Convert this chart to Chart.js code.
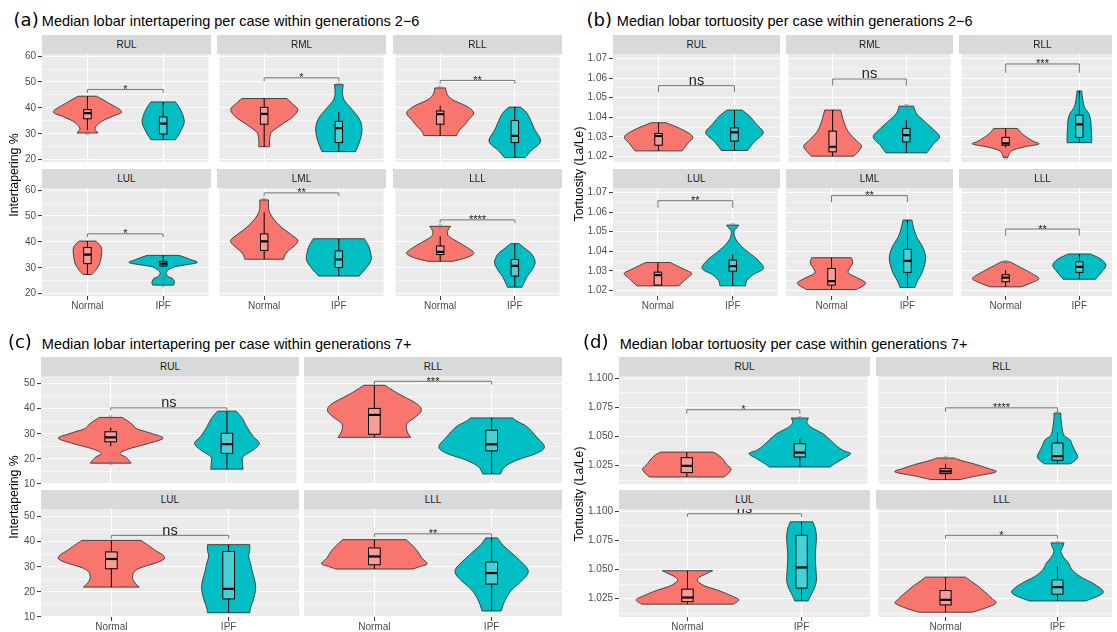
<!DOCTYPE html>
<html><head><meta charset="utf-8">
<script src="https://cdn.jsdelivr.net/npm/chart.js@4.4.1/dist/chart.umd.min.js"></script>
<style>
html,body{margin:0;padding:0;background:#fff;}
#fig{position:relative;width:1112px;height:632px;overflow:hidden;font-family:'Liberation Sans',Arial,sans-serif;background:#fff;}
canvas{position:absolute;}
.strip{position:absolute;background:#D9D9D9;color:#1A1A1A;font-size:10px;display:flex;align-items:center;justify-content:center;z-index:2;}
.ttl{position:absolute;white-space:nowrap;font-size:14.5px;line-height:14.5px;color:#000;z-index:3;}
.tag{position:absolute;white-space:nowrap;font-family:'DejaVu Sans',sans-serif;font-size:18px;line-height:18px;color:#000;z-index:3;}
.ytitle{position:absolute;white-space:nowrap;font-size:12.3px;line-height:14px;height:14px;width:160px;text-align:center;color:#000;transform:rotate(-90deg);z-index:3;}
</style></head><body><div id="fig"></div>
<script>
// ---------------- DATA ----------------
const groups = ['Normal', 'IPF'];
const lobes6 = ['RUL', 'RML', 'RLL', 'LUL', 'LML', 'LLL'];
const lobes4 = ['RUL', 'RLL', 'LUL', 'LLL'];

const titleA = 'Median lobar intertapering per case within generations 2\u22126';
const titleB = 'Median lobar tortuosity per case within generations 2\u22126';
const titleC = 'Median lobar intertapering per case within generations 7+';
const titleD = 'Median lobar tortuosity per case within generations 7+';
const yTitleInter = 'Intertapering %';
const yTitleTort = 'Tortuosity (La/Le)';

const ticksA = [20, 30, 40, 50, 60];
const ticksB = [1.02, 1.03, 1.04, 1.05, 1.06, 1.07];
const ticksC = [10, 20, 30, 40, 50];
const ticksD = [1.025, 1.05, 1.075, 1.1];

// violin profiles: [value, relative density] from top to bottom
const aViolinN = [
  [[44.5,0.27],[41.9,0.62],[38.6,1.0],[36.7,0.73],[34.8,0.42],[32.2,0.22],[30.3,0.31]],
  [[43.6,0.67],[41.5,0.85],[39.3,1.0],[36.5,0.85],[34.1,0.58],[31.5,0.3],[30.3,0.2],[27.5,0.16],[25.0,0.16]],
  [[47.7,0.16],[45.5,0.2],[43.2,0.36],[40.5,0.8],[38.0,1.0],[35.5,0.85],[33.5,0.73],[31.0,0.55],[29.3,0.49]],
  [[40.3,0.24],[38.5,0.38],[36.7,0.42],[34.0,0.4],[31.6,0.36],[29.0,0.24],[27.4,0.13]],
  [[56.2,0.13],[53.5,0.13],[51.4,0.16],[48.5,0.3],[45.7,0.51],[43.0,0.78],[40.6,1.0],[38.5,0.9],[36.7,0.73],[35.0,0.62],[33.3,0.58]],
  [[46.0,0.31],[44.0,0.22],[42.0,0.27],[39.3,0.62],[37.0,0.9],[35.5,1.0],[34.0,0.8],[32.5,0.38]]
];
const aViolinI = [
  [[42.3,0.36],[39.3,0.51],[34.8,0.62],[30.9,0.51],[27.7,0.36]],
  [[49.0,0.13],[46.0,0.11],[43.0,0.16],[39.3,0.4],[35.5,0.62],[31.5,0.69],[27.0,0.62],[23.1,0.5]],
  [[40.3,0.17],[38.0,0.36],[34.1,0.51],[31.5,0.6],[27.6,0.77],[25.5,0.68],[23.8,0.51],[20.8,0.31]],
  [[34.8,0.47],[33.2,0.8],[32.0,1.0],[31.0,0.6],[30.3,0.31],[29.0,0.14],[27.8,0.09],[26.5,0.16],[25.9,0.27],[24.5,0.33],[23.3,0.31]],
  [[41.2,0.76],[38.3,0.89],[35.5,0.95],[32.9,0.96],[30.0,0.82],[26.8,0.6]],
  [[39.3,0.13],[37.5,0.3],[35.5,0.49],[33.5,0.58],[31.6,0.6],[29.0,0.5],[26.5,0.36],[24.0,0.27],[22.5,0.22]]
];
// box stats: [lower whisker, q1, median, q3, upper whisker]
const aBoxN = [[31.5,35.8,38.0,39.3,44.5],[25.0,33.7,37.7,40.2,43.6],[29.3,33.7,37.6,38.8,40.9],[27.4,31.6,35.1,37.8,40.3],[33.3,36.7,40.2,43.1,51.4],[32.5,35.1,36.1,38.4,42.2]];
const aBoxI = [[27.7,29.9,33.9,36.5,42.3],[23.1,26.6,32.2,34.8,38.4],[20.8,26.6,29.2,35.1,40.3],[30.3,30.7,31.6,32.5,34.8],[26.8,30.1,33.2,36.5,41.2],[22.5,26.8,30.7,33.2,39.3]];
const aOutN = [[30.3],[],[47.7],[],[56.2],[46.0]];
const aOutI = [[],[49.0],[],[26.0,23.3],[],[]];
// significance: [bar value, tip end value, label]
const aSig = [[47.1,45.8,'*'],[51.6,50.3,'*'],[50.6,49.3,'**'],[43.1,41.8,'*'],[58.9,57.6,'**'],[48.5,47.2,'****']];

const bViolinN = [
  [[1.0372,0.22],[1.0334,0.73],[1.0300,1.0],[1.0265,0.85],[1.0228,0.69]],
  [[1.0437,0.24],[1.0380,0.33],[1.0326,0.47],[1.0280,0.72],[1.0249,0.87],[1.0201,0.64]],
  [[1.0343,0.36],[1.0315,0.5],[1.0280,0.8],[1.0263,1.0],[1.0248,0.55],[1.0230,0.2],[1.0210,0.1],[1.0194,0.07]],
  [[1.0343,0.36],[1.0310,0.75],[1.0287,1.0],[1.0260,0.85],[1.0223,0.62]],
  [[1.0367,0.58],[1.0340,0.62],[1.0310,0.52],[1.0287,0.5],[1.0260,0.8],[1.0235,1.0],[1.0204,0.73]],
  [[1.0346,0.13],[1.0320,0.42],[1.0290,0.75],[1.0261,1.0],[1.0240,0.8],[1.0218,0.47]]
];
const bViolinI = [
  [[1.0437,0.22],[1.0405,0.45],[1.0369,0.62],[1.0326,0.84],[1.0300,0.75],[1.0274,0.58],[1.0230,0.38]],
  [[1.0457,0.22],[1.0420,0.3],[1.0386,0.5],[1.0340,0.8],[1.0300,1.0],[1.0260,0.8],[1.0218,0.62]],
  [[1.0535,0.07],[1.0505,0.09],[1.0454,0.15],[1.0420,0.28],[1.0386,0.34],[1.0335,0.36],[1.0300,0.37],[1.0270,0.37]],
  [[1.0534,0.18],[1.0515,0.1],[1.0504,0.04],[1.0470,0.07],[1.0432,0.22],[1.0390,0.5],[1.0355,0.75],[1.0312,0.91],[1.0280,0.6],[1.0250,0.42],[1.0223,0.38]],
  [[1.0560,0.13],[1.0520,0.18],[1.0474,0.27],[1.0420,0.45],[1.0372,0.53],[1.0330,0.5],[1.0287,0.42],[1.0250,0.3],[1.0215,0.22]],
  [[1.0386,0.33],[1.0360,0.65],[1.0329,0.8],[1.0300,0.7],[1.0257,0.49]]
];
const bBoxN = [[1.0228,1.0257,1.0304,1.0317,1.0372],[1.0201,1.0223,1.0249,1.0329,1.0437],[1.0245,1.0257,1.0266,1.0297,1.0343],[1.0223,1.0227,1.0278,1.0293,1.0343],[1.0204,1.0227,1.0247,1.0312,1.0367],[1.0218,1.0244,1.0265,1.0280,1.0304]];
const bBoxI = [[1.0230,1.0278,1.0323,1.0346,1.0437],[1.0218,1.0274,1.0309,1.0343,1.0386],[1.0270,1.0297,1.0364,1.0411,1.0535],[1.0223,1.0298,1.0324,1.0355,1.0384],[1.0215,1.0292,1.0351,1.0410,1.0560],[1.0257,1.0292,1.0320,1.0346,1.0386]];
const bOutN = [[],[],[1.0194],[],[],[1.0346]];
const bOutI = [[],[1.0457],[],[1.0534],[],[]];
const bSig = [[1.0562,1.0528,'ns'],[1.0596,1.0562,'ns'],[1.0673,1.0628,'***'],[1.0659,1.0623,'**'],[1.0685,1.0651,'**'],[1.0514,1.0480,'**']];

const cViolinN = [
  [[36.5,0.22],[34.0,0.4],[32.0,0.5],[30.0,0.8],[28.2,1.0],[26.0,0.7],[24.0,0.35],[22.2,0.18],[20.5,0.3],[18.3,0.39]],
  [[49.3,0.2],[46.0,0.45],[42.0,0.8],[39.4,0.89],[37.0,0.8],[34.1,0.62],[31.0,0.62],[28.6,0.69]],
  [[40.5,0.56],[37.0,0.8],[33.1,1.0],[29.1,0.5],[26.0,0.4],[23.5,0.45],[21.9,0.53]],
  [[40.8,0.6],[38.5,0.72],[36.1,0.82],[33.5,0.9],[31.2,1.0],[30.0,0.85],[29.1,0.73]]
];
const cViolinI = [
  [[39.0,0.18],[36.0,0.3],[32.8,0.38],[29.0,0.5],[26.2,0.62],[23.5,0.5],[20.9,0.31],[18.0,0.3],[15.9,0.31]],
  [[36.3,0.4],[35.0,0.48],[32.8,0.67],[28.8,0.85],[24.8,1.0],[22.2,0.85],[19.5,0.48],[16.9,0.25],[14.0,0.17]],
  [[38.8,0.4],[36.5,0.4],[34.1,0.38],[31.0,0.42],[28.8,0.44],[24.0,0.5],[20.8,0.51],[17.0,0.47],[14.0,0.42],[11.7,0.4]],
  [[41.5,0.11],[38.5,0.22],[35.5,0.38],[32.0,0.56],[29.5,0.67],[27.5,0.69],[25.0,0.6],[22.0,0.44],[19.5,0.33],[16.0,0.24],[12.4,0.18]]
];
const cBoxN = [[25.0,26.8,28.6,30.8,32.5],[28.6,29.8,37.5,40.1,49.3],[21.9,29.2,33.1,35.9,40.5],[29.1,30.8,34.1,37.5,40.8]];
const cBoxI = [[15.9,22.2,25.9,30.2,39.0],[14.0,23.2,25.8,31.4,36.3],[11.7,17.2,21.2,36.1,38.8],[12.4,23.1,27.5,31.9,41.5]];
const cOutN = [[36.5,18.3],[],[],[]];
const cOutI = [[],[],[],[]];
const cSig = [[40.3,39.3,'ns'],[50.9,49.6,'***'],[42.5,41.2,'ns'],[43.1,41.8,'**']];

const dViolinN = [
  [[1.0366,0.52],[1.0340,0.62],[1.0300,0.72],[1.0260,0.78],[1.0224,0.87],[1.0185,0.82],[1.0152,0.73]],
  [[1.0315,0.18],[1.0295,0.3],[1.0260,0.6],[1.0225,0.85],[1.0195,1.0],[1.0160,0.6],[1.0130,0.29]],
  [[1.0489,0.49],[1.0460,0.35],[1.0430,0.22],[1.0400,0.2],[1.0360,0.33],[1.0320,0.6],[1.0275,0.85],[1.0239,1.0],[1.0202,0.89]],
  [[1.0434,0.4],[1.0400,0.5],[1.0365,0.62],[1.0325,0.73],[1.0285,0.84],[1.0240,0.95],[1.0210,1.0],[1.0170,0.8],[1.0133,0.53]]
];
const dViolinI = [
  [[1.0658,0.17],[1.0620,0.14],[1.0580,0.22],[1.0525,0.45],[1.0470,0.6],[1.0420,0.72],[1.0380,0.85],[1.0353,1.0],[1.0310,0.85],[1.0270,0.7],[1.0238,0.6]],
  [[1.0700,0.07],[1.0650,0.07],[1.0580,0.09],[1.0510,0.13],[1.0470,0.25],[1.0420,0.3],[1.0360,0.37],[1.0324,0.4],[1.0290,0.34],[1.0265,0.25]],
  [[1.0909,0.22],[1.0850,0.27],[1.0780,0.29],[1.0700,0.28],[1.0641,0.27],[1.0580,0.27],[1.0500,0.28],[1.0411,0.29],[1.0350,0.26],[1.0296,0.2],[1.0230,0.13]],
  [[1.0728,0.13],[1.0700,0.11],[1.0655,0.07],[1.0600,0.13],[1.0555,0.22],[1.0498,0.29],[1.0440,0.45],[1.0370,0.75],[1.0310,0.91],[1.0270,0.8],[1.0230,0.56]]
];
const dBoxN = [[1.0152,1.0190,1.0247,1.0318,1.0366],[1.0130,1.0181,1.0201,1.0224,1.0267],[1.0202,1.0224,1.0259,1.0331,1.0489],[1.0133,1.0196,1.0239,1.0319,1.0434]];
const dBoxI = [[1.0238,1.0324,1.0361,1.0438,1.0481],[1.0265,1.0296,1.0330,1.0444,1.0538],[1.0230,1.0340,1.0517,1.0793,1.0909],[1.0230,1.0288,1.0348,1.0411,1.0526]];
const dOutN = [[],[1.0315],[],[]];
const dOutI = [[1.0658],[1.0700],[],[1.0728]];
const dSig = [[1.0729,1.0695,'*'],[1.0746,1.0712,'****'],[1.0978,1.0950,'ns'],[1.0793,1.0765,'*']];

// ---------------- LAYOUT / STYLE ----------------
const COLORS = ['#F8766D', '#00BFC4'];
const MAX_HALF = 0.45, BOX_HALF = 0.05;
const PAD_T = 8, PAD_B = 6, XAX_H = 20;
const FONT = 'Liberation Sans';

const panels = [
  {tag:'(a)', title:titleA, yTitle:yTitleInter, lobes:lobes6, ticks:ticksA, dec:0, min:19.1, max:60.8,
   vN:aViolinN, vI:aViolinI, bN:aBoxN, bI:aBoxI, oN:aOutN, oI:aOutI, sig:aSig,
   cols:[42,217,393], w:169, rows:[[35,54,162],[169,188,296]], L:42,
   tagX:13.6, titleX:41.8, base:26.6, yTX:14.3, yTY:175},
  {tag:'(b)', title:titleB, yTitle:yTitleTort, lobes:lobes6, ticks:ticksB, dec:2, min:1.0171, max:1.0724,
   vN:bViolinN, vI:bViolinI, bN:bBoxN, bI:bBoxI, oN:bOutN, oI:bOutI, sig:bSig,
   cols:[613,786,959], w:167, rows:[[35,54,162],[169,188,296]], L:45,
   tagX:586.6, titleX:616.8, base:26.6, yTX:579, yTY:174},
  {tag:'(c)', title:titleC, yTitle:yTitleInter, lobes:lobes4, ticks:ticksC, dec:0, min:10.0, max:53.0,
   vN:cViolinN, vI:cViolinI, bN:cBoxN, bI:cBoxI, oN:cOutN, oI:cOutI, sig:cSig,
   cols:[41,304], w:258, rows:[[357,376,484],[490,509,617]], L:41,
   tagX:7.9, titleX:41.8, base:349, yTX:13.5, yTY:497},
  {tag:'(d)', title:titleD, yTitle:yTitleTort, lobes:lobes4, ticks:ticksD, dec:3, min:1.0092, max:1.1019,
   vN:dViolinN, vI:dViolinI, bN:dBoxN, bI:dBoxI, oN:dOutN, oI:dOutI, sig:dSig,
   cols:[619,876], w:251, rows:[[357,376,484],[490,509,617]], L:45,
   tagX:583, titleX:619.7, base:349, yTX:579, yTY:494}
];

const fig = document.getElementById('fig');
function addDiv(cls, text, css) {
  const d = document.createElement('div');
  d.className = cls; d.textContent = text; Object.assign(d.style, css);
  fig.appendChild(d); return d;
}

function yTickList(p) {
  const maj = p.ticks, step = maj[1] - maj[0];
  const out = maj.map(v => ({value: v, minor: false}));
  for (let v = maj[0] - step / 2; v <= maj[maj.length - 1] + step / 2 + 1e-9; v += step) {
    if (v >= p.min && v <= p.max) out.push({value: v, minor: true});
  }
  return out.sort((a, b) => a.value - b.value);
}

function smoothThrough(ctx, pts) {
  for (let i = 0; i < pts.length - 1; i++) {
    const p0 = pts[i - 1] || pts[i], p1 = pts[i], p2 = pts[i + 1], p3 = pts[i + 2] || pts[i + 1];
    const c1x = p1[0] + (p2[0] - p0[0]) / 6, c1y = p1[1] + (p2[1] - p0[1]) / 6;
    const c2x = p2[0] - (p3[0] - p1[0]) / 6, c2y = p2[1] - (p3[1] - p1[1]) / 6;
    ctx.bezierCurveTo(c1x, c1y, c2x, c2y, p2[0], p2[1]);
  }
}

function makeFacetPlugin(spec) {
  return {
    id: 'facet',
    beforeDraw(chart) {
      const {ctx, chartArea: a} = chart;
      ctx.save(); ctx.fillStyle = '#EBEBEB'; ctx.fillRect(a.left, a.top, a.width, a.height); ctx.restore();
    },
    beforeDatasetsDraw(chart) {
      const ctx = chart.ctx, a = chart.chartArea, xs = chart.scales.x, ys = chart.scales.y;
      const unit = xs.getPixelForValue(2) - xs.getPixelForValue(1);
      ctx.save();
      ctx.beginPath(); ctx.rect(a.left, a.top, a.width, a.height); ctx.clip();
      [spec.vN, spec.vI].forEach((prof, gi) => {
        const cx = xs.getPixelForValue(gi + 1);
        const right = prof.map(([v, d]) => [cx + d * MAX_HALF * unit, ys.getPixelForValue(v)]);
        const left = right.map(([x, y]) => [2 * cx - x, y]).reverse();
        ctx.beginPath();
        ctx.moveTo(left[left.length - 1][0], left[left.length - 1][1]);
        ctx.lineTo(right[0][0], right[0][1]);
        smoothThrough(ctx, right);
        ctx.lineTo(left[0][0], left[0][1]);
        smoothThrough(ctx, left);
        ctx.closePath();
        ctx.fillStyle = COLORS[gi]; ctx.fill();
        ctx.lineWidth = 0.9; ctx.strokeStyle = '#333333'; ctx.stroke();
        // box
        const [lo, q1, med, q3, hi] = gi === 0 ? spec.bN : spec.bI;
        const bw = BOX_HALF * unit;
        ctx.strokeStyle = '#000'; ctx.lineWidth = 1;
        ctx.beginPath();
        ctx.moveTo(cx, ys.getPixelForValue(hi)); ctx.lineTo(cx, ys.getPixelForValue(q3));
        ctx.moveTo(cx, ys.getPixelForValue(q1)); ctx.lineTo(cx, ys.getPixelForValue(lo));
        ctx.stroke();
        const yq3 = ys.getPixelForValue(q3), yq1 = ys.getPixelForValue(q1);
        ctx.fillStyle = 'rgba(255,255,255,0.28)';
        ctx.fillRect(cx - bw, yq3, 2 * bw, yq1 - yq3);
        ctx.strokeRect(cx - bw, yq3, 2 * bw, yq1 - yq3);
        ctx.lineWidth = 2.2;
        ctx.beginPath();
        const ym = ys.getPixelForValue(med);
        ctx.moveTo(cx - bw, ym); ctx.lineTo(cx + bw, ym); ctx.stroke();
      });
      // significance bracket
      const [yb, yt, label] = spec.sig;
      const x1 = xs.getPixelForValue(1), x2 = xs.getPixelForValue(2);
      const pb = ys.getPixelForValue(yb), pt = ys.getPixelForValue(yt);
      ctx.strokeStyle = '#555555'; ctx.lineWidth = 0.8;
      ctx.beginPath();
      ctx.moveTo(x1, pt); ctx.lineTo(x1, pb); ctx.lineTo(x2, pb); ctx.lineTo(x2, pt);
      ctx.stroke();
      ctx.fillStyle = '#222222'; ctx.textAlign = 'center'; ctx.textBaseline = 'alphabetic';
      if (label === 'ns') { ctx.font = '14.5px "' + FONT + '"'; ctx.fillText(label, (x1 + x2) / 2, pb - 0.5); }
      else { ctx.font = '11px "' + FONT + '"'; ctx.fillText(label, (x1 + x2) / 2, pb + 3.5); }
      ctx.restore();
    }
  };
}

panels.forEach(p => {
  addDiv('tag', p.tag, {left: p.tagX + 'px', top: (p.base - 0.6 - 15.2) + 'px'});
  addDiv('ttl', p.title, {left: p.titleX + 'px', top: (p.base - 12.27) + 'px'});
  addDiv('ytitle', p.yTitle, {left: (p.yTX - 80) + 'px', top: (p.yTY - 7) + 'px'});
  const ncols = p.cols.length;
  p.rows.forEach((row, r) => {
    const [sTop, pTop, pBot] = row;
    p.cols.forEach((plotL, c) => {
      const idx = r * ncols + c;
      addDiv('strip', p.lobes[idx], {left: plotL + 'px', top: sTop + 'px', width: p.w + 'px', height: (pTop - sTop) + 'px'});
      const L = c === 0 ? p.L : 0;
      const B = r === 1 ? XAX_H : 0;
      const cv = document.createElement('canvas');
      const W = L + p.w, H = PAD_T + (pBot - pTop) + B + PAD_B;
      cv.width = W; cv.height = H;
      Object.assign(cv.style, {left: (plotL - L) + 'px', top: (pTop - PAD_T) + 'px', width: W + 'px', height: H + 'px'});
      fig.appendChild(cv);
      const spec = {vN: p.vN[idx], vI: p.vI[idx], bN: p.bN[idx], bI: p.bI[idx], sig: p.sig[idx]};
      const outliers = p.oN[idx].map(v => ({x: 1, y: v})).concat(p.oI[idx].map(v => ({x: 2, y: v})));
      const tickFont = {family: FONT, size: 10};
      new Chart(cv.getContext('2d'), {
        type: 'scatter',
        data: {datasets: [{data: outliers, pointRadius: 2.4, pointHoverRadius: 2.4,
          pointBackgroundColor: 'rgba(120,120,120,0.45)', pointBorderWidth: 0}]},
        options: {
          responsive: false, animation: false, devicePixelRatio: 1, events: [],
          layout: {padding: {top: PAD_T, bottom: PAD_B, left: 0, right: 0}},
          plugins: {legend: {display: false}, tooltip: {enabled: false}},
          scales: {
            x: {
              type: 'linear', min: 0.4, max: 2.6, bounds: 'data',
              afterBuildTicks: s => { s.ticks = [{value: 1}, {value: 2}]; },
              afterFit: s => { s.height = B; s.paddingLeft = 0; s.paddingRight = 0; },
              grid: {color: '#FFFFFF', lineWidth: 1.1, drawTicks: r === 1, tickLength: 4, tickColor: '#333333', tickWidth: 1},
              border: {display: false},
              ticks: {display: r === 1, autoSkip: false, maxRotation: 0, padding: 0, color: '#4D4D4D', font: tickFont,
                callback: v => groups[Math.round(v) - 1]}
            },
            y: {
              type: 'linear', min: p.min, max: p.max, bounds: 'data',
              afterBuildTicks: s => { s.ticks = yTickList(p); },
              afterFit: s => { s.width = L; s.paddingTop = 0; s.paddingBottom = 0; },
              grid: {color: '#FFFFFF',
                lineWidth: ctx => (ctx.tick && ctx.tick.minor) ? 0.55 : 1.1,
                drawTicks: c === 0, tickLength: 4, tickWidth: 1,
                tickColor: ctx => (ctx.tick && ctx.tick.minor) ? 'rgba(0,0,0,0)' : '#333333'},
              border: {display: false},
              ticks: {display: c === 0, autoSkip: false, padding: 2, color: '#4D4D4D', font: tickFont,
                callback: (v, i, t) => (t[i] && t[i].minor) ? '' : Number(v).toFixed(p.dec)}
            }
          }
        },
        plugins: [makeFacetPlugin(spec)]
      });
    });
  });
});
</script></body></html>
